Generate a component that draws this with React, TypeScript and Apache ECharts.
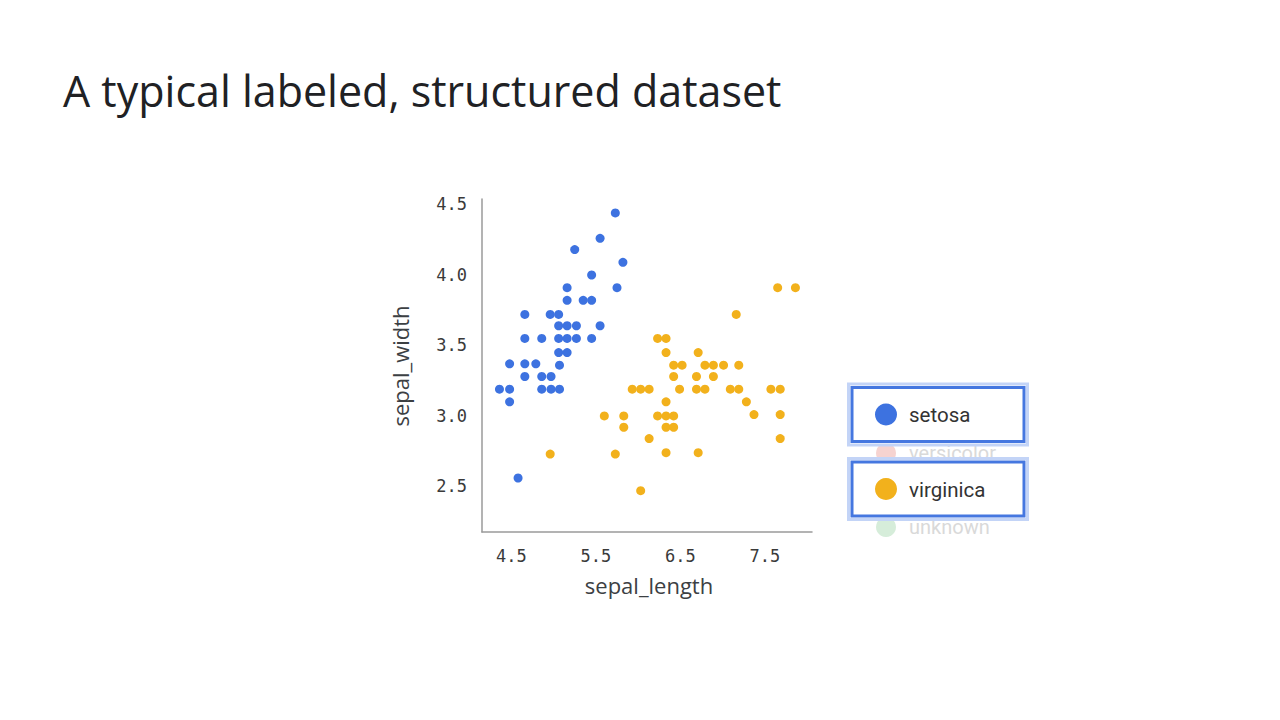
import React, { useEffect, useRef } from "react";
import * as echarts from "echarts";

const xTicks = [4.5, 5.5, 6.5, 7.5];
const yTicks = [2.5, 3.0, 3.5, 4.0, 4.5];

const setosa: [number, number][] = [
  [5.73, 4.44], [5.55, 4.26], [5.25, 4.18], [5.82, 4.09], [5.45, 4.0],
  [5.16, 3.91], [5.75, 3.91], [5.16, 3.82], [5.35, 3.82], [5.45, 3.82],
  [4.66, 3.72], [4.96, 3.72], [5.06, 3.72],
  [5.06, 3.64], [5.16, 3.64], [5.27, 3.64], [5.55, 3.64],
  [4.66, 3.55], [4.86, 3.55], [5.06, 3.55], [5.16, 3.55], [5.27, 3.55], [5.45, 3.55],
  [5.06, 3.45], [5.16, 3.45],
  [4.48, 3.37], [4.66, 3.37], [4.79, 3.37], [5.07, 3.36],
  [4.66, 3.28], [4.86, 3.28], [4.97, 3.28],
  [4.36, 3.19], [4.48, 3.19], [4.86, 3.19], [4.97, 3.19], [5.07, 3.19],
  [4.48, 3.1], [4.58, 2.56],
];

const virginica: [number, number][] = [
  [7.65, 3.91], [7.86, 3.91], [7.16, 3.72],
  [6.23, 3.55], [6.33, 3.55], [6.33, 3.45], [6.71, 3.45],
  [6.42, 3.36], [6.52, 3.36], [6.79, 3.36], [6.89, 3.36], [7.01, 3.36], [7.19, 3.36],
  [6.42, 3.28], [6.69, 3.28], [6.89, 3.28],
  [5.93, 3.19], [6.03, 3.19], [6.13, 3.19], [6.49, 3.19], [6.69, 3.19], [6.79, 3.19],
  [7.09, 3.19], [7.19, 3.19], [7.57, 3.19], [7.68, 3.19],
  [6.33, 3.1], [7.28, 3.1],
  [5.6, 3.0], [5.83, 3.0], [6.23, 3.0], [6.33, 3.0], [6.42, 3.0], [7.37, 3.01], [7.68, 3.01],
  [5.83, 2.92], [6.33, 2.92], [6.42, 2.92],
  [6.13, 2.84], [7.68, 2.84],
  [4.96, 2.73], [5.73, 2.73], [6.33, 2.74], [6.71, 2.74],
  [6.03, 2.47],
];

const BLUE = "#3d72e0";
const YELLOW = "#f2b11c";

export default function App() {
  const ref = useRef<HTMLDivElement>(null);
  useEffect(() => {
    document.body.style.margin = "0";
    const chart = echarts.init(ref.current!, undefined, { renderer: "svg" });
    const mono = "'DejaVu Sans Mono', monospace";
    const sans = "'Open Sans', Roboto, sans-serif";
    const legendFont = "Roboto, 'Noto Sans', sans-serif";
    chart.setOption({
      animation: false,
      backgroundColor: "#ffffff",
      grid: { left: 482, right: 468, top: 199, bottom: 188, containLabel: false },
      xAxis: {
        type: "value",
        min: 4.1535,
        max: 8.056,
        axisLine: { show: true, lineStyle: { color: "#9a9a9a", width: 1.5 } },
        axisTick: { show: false },
        splitLine: { show: false },
        axisLabel: {
          customValues: xTicks,
          formatter: (v: number) => v.toFixed(1),
          fontFamily: mono,
          fontSize: 17,
          color: "#3a3a3a",
          margin: 15,
        },
      },
      yAxis: {
        type: "value",
        min: 2.177,
        max: 4.539,
        axisLine: { show: true, lineStyle: { color: "#9a9a9a", width: 1.5 } },
        axisTick: { show: false },
        splitLine: { show: false },
        axisLabel: {
          customValues: yTicks,
          formatter: (v: number) => v.toFixed(1),
          fontFamily: mono,
          fontSize: 17,
          color: "#3a3a3a",
          margin: 15,
        },
      },
      series: [
        {
          name: "setosa",
          type: "scatter",
          data: setosa,
          symbolSize: 9,
          itemStyle: { color: BLUE, opacity: 1 },
          emphasis: { disabled: true },
        },
        {
          name: "virginica",
          type: "scatter",
          data: virginica,
          symbolSize: 9,
          itemStyle: { color: YELLOW, opacity: 1 },
          emphasis: { disabled: true },
        },
      ],
      graphic: [
        {
          type: "text",
          x: 63,
          y: 90,
          style: {
            text: "A typical labeled, structured dataset",
            font: `400 43px ${sans}`,
            fill: "#202124",
            verticalAlign: "middle",
          },
        },
        {
          type: "text",
          x: 400,
          y: 366,
          rotation: Math.PI / 2,
          style: {
            text: "sepal_width",
            font: `400 22px ${sans}`,
            fill: "#3c4043",
            align: "center",
            verticalAlign: "middle",
          },
        },
        {
          type: "text",
          x: 649,
          y: 585,
          style: {
            text: "sepal_length",
            font: `400 22px ${sans}`,
            fill: "#3c4043",
            align: "center",
            verticalAlign: "middle",
          },
        },
        // faded legend entries
        { type: "circle", shape: { cx: 886, cy: 453, r: 10 }, style: { fill: "#f6d3d0" }, z: 10 },
        {
          type: "text", x: 909, y: 453, z: 10,
          style: { text: "versicolor", font: `400 20px ${legendFont}`, fill: "#d9d9d9", verticalAlign: "middle" },
        },
        { type: "circle", shape: { cx: 886, cy: 527, r: 10 }, style: { fill: "#d6edda" }, z: 10 },
        {
          type: "text", x: 909, y: 527, z: 10,
          style: { text: "unknown", font: `400 20px ${legendFont}`, fill: "#d9d9d9", verticalAlign: "middle" },
        },
        // highlighted boxes
        {
          type: "rect", z: 20,
          shape: { x: 848.5, y: 384, width: 179, height: 61 },
          style: { fill: "#ffffff", stroke: "#c3d4f7", lineWidth: 3 },
        },
        {
          type: "rect", z: 21,
          shape: { x: 852, y: 387.5, width: 172, height: 54 },
          style: { fill: "#ffffff", stroke: "#4577e0", lineWidth: 3 },
        },
        { type: "circle", z: 22, shape: { cx: 886, cy: 414.5, r: 11 }, style: { fill: BLUE } },
        {
          type: "text", x: 909, y: 415, z: 22,
          style: { text: "setosa", font: `400 20.5px ${legendFont}`, fill: "#333333", verticalAlign: "middle" },
        },
        {
          type: "rect", z: 20,
          shape: { x: 848.5, y: 458.5, width: 179, height: 61 },
          style: { fill: "#ffffff", stroke: "#c3d4f7", lineWidth: 3 },
        },
        {
          type: "rect", z: 21,
          shape: { x: 852, y: 462, width: 172, height: 54 },
          style: { fill: "#ffffff", stroke: "#4577e0", lineWidth: 3 },
        },
        { type: "circle", z: 22, shape: { cx: 886, cy: 489, r: 11 }, style: { fill: YELLOW } },
        {
          type: "text", x: 909, y: 490, z: 22,
          style: { text: "virginica", font: `400 20.5px ${legendFont}`, fill: "#333333", verticalAlign: "middle" },
        },
      ],
    });
    return () => chart.dispose();
  }, []);
  return <div ref={ref} style={{ width: 1280, height: 720, position: "absolute", left: 0, top: 0 }} />;
}
